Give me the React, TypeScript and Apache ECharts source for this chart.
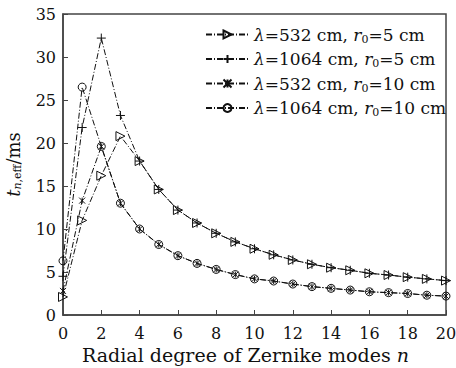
import React, { useEffect, useRef } from "react";
import * as echarts from "echarts";

const nValues = [0, 1, 2, 3, 4, 5, 6, 7, 8, 9, 10, 11, 12, 13, 14, 15, 16, 17, 18, 19, 20];
const s532r5 = [2.1, 11.0, 16.2, 20.8, 17.9, 14.6, 12.2, 10.7, 9.5, 8.5, 7.7, 7.0, 6.4, 5.9, 5.5, 5.2, 4.85, 4.65, 4.4, 4.2, 4.0];
const s1064r5 = [4.5, 21.8, 32.2, 23.2, 17.9, 14.6, 12.2, 10.7, 9.5, 8.5, 7.7, 7.0, 6.4, 5.9, 5.5, 5.2, 4.85, 4.65, 4.4, 4.2, 4.0];
const s532r10 = [2.8, 13.3, 19.6, 13.0, 10.0, 8.2, 6.9, 6.0, 5.3, 4.7, 4.2, 3.95, 3.6, 3.3, 3.1, 2.9, 2.7, 2.6, 2.5, 2.3, 2.2];
const s1064r10 = [6.3, 26.5, 19.6, 13.0, 10.0, 8.2, 6.9, 6.0, 5.3, 4.7, 4.2, 3.95, 3.6, 3.3, 3.1, 2.9, 2.7, 2.6, 2.5, 2.3, 2.2];
const seriesNames = [
  "{it|λ}=532 cm, {it|r}{sub|0}=5 cm",
  "{it|λ}=1064 cm, {it|r}{sub|0}=5 cm",
  "{it|λ}=532 cm, {it|r}{sub|0}=10 cm",
  "{it|λ}=1064 cm, {it|r}{sub|0}=10 cm",
];
const xTickMax = 20;
const yTickMax = 35;

const FONT = "DejaVu Serif";
const INK = "#111";

export default function App() {
  const ref = useRef<HTMLDivElement>(null);
  useEffect(() => {
    if (!ref.current) return;
    document.body.style.margin = "0";
    const chart = echarts.init(ref.current, undefined, { renderer: "svg" });
    const richFor = (fs: number) => ({
      it: { fontFamily: FONT, fontStyle: "italic", fontSize: fs, color: INK, lineHeight: 20 },
      sub: { fontFamily: FONT, fontSize: 11, color: INK, verticalAlign: "bottom", lineHeight: 12 },
      subi: { fontFamily: FONT, fontStyle: "italic", fontSize: 11, color: INK, verticalAlign: "bottom", lineHeight: 12 },
    });
    const lineStyle = { color: INK, width: 1, type: [6, 2, 1, 2] as any };
    const mk = (name: string, data: number[], symbol: string, size: number) => ({
      name,
      type: "line",
      data: nValues.map((n, i) => [n, data[i]]),
      symbol,
      symbolSize: size,
      showAllSymbol: true,
      lineStyle,
      itemStyle: { color: "none", borderColor: INK, borderWidth: 1 },
    });
    chart.setOption({
      animation: false,
      textStyle: { fontFamily: FONT, color: INK },
      grid: {
        left: 63, right: 10, top: 14, bottom: 53,
        show: true, borderColor: "#444", borderWidth: 1.5,
        containLabel: false, outerBoundsMode: "none",
      },
      legend: {
        orient: "vertical",
        left: 200,
        top: 21,
        itemWidth: 43,
        itemHeight: 10,
        itemGap: 6,
        textStyle: { fontFamily: FONT, fontSize: 17, color: INK, rich: richFor(17) },
        data: seriesNames,
      },
      xAxis: {
        type: "value",
        min: 0,
        max: xTickMax,
        interval: 2,
        name: "Radial degree of Zernike modes {it|n}",
        nameLocation: "middle",
        nameGap: 28,
        nameTextStyle: { fontFamily: FONT, fontSize: 19, color: INK, rich: richFor(19), padding: [0, 18, 0, 0] },
        axisLine: { lineStyle: { color: "#444", width: 1.5 } },
        axisTick: { inside: true, length: 5, lineStyle: { color: "#444" } },
        axisLabel: { fontFamily: FONT, fontSize: 16, color: INK, margin: 10 },
        splitLine: { show: false },
      },
      yAxis: {
        type: "value",
        min: 0,
        max: yTickMax,
        interval: 5,
        name: "{it|t}{subi|n}{sub|,eff}/ms",
        nameLocation: "middle",
        nameRotate: 90,
        nameGap: 40,
        nameTextStyle: { fontFamily: FONT, fontSize: 18, color: INK, rich: richFor(18) },
        axisLine: { lineStyle: { color: "#444", width: 1.5 } },
        axisTick: { inside: true, length: 5, lineStyle: { color: "#444" } },
        axisLabel: { fontFamily: FONT, fontSize: 16, color: INK, margin: 7 },
        splitLine: { show: false },
      },
      series: [
        mk(seriesNames[0], s532r5, "path://M0,0L10,5L0,10Z", 9),
        mk(seriesNames[1], s1064r5, "path://M5,0L5,10M0,5L10,5", 9),
        mk(seriesNames[2], s532r10, "path://M0,0L10,10M0,10L10,0M5,0L5,10", 6),
        mk(seriesNames[3], s1064r10, "circle", 8),
      ],
    });
    return () => chart.dispose();
  }, []);
  return <div ref={ref} style={{ width: 456, height: 368 }} />;
}
